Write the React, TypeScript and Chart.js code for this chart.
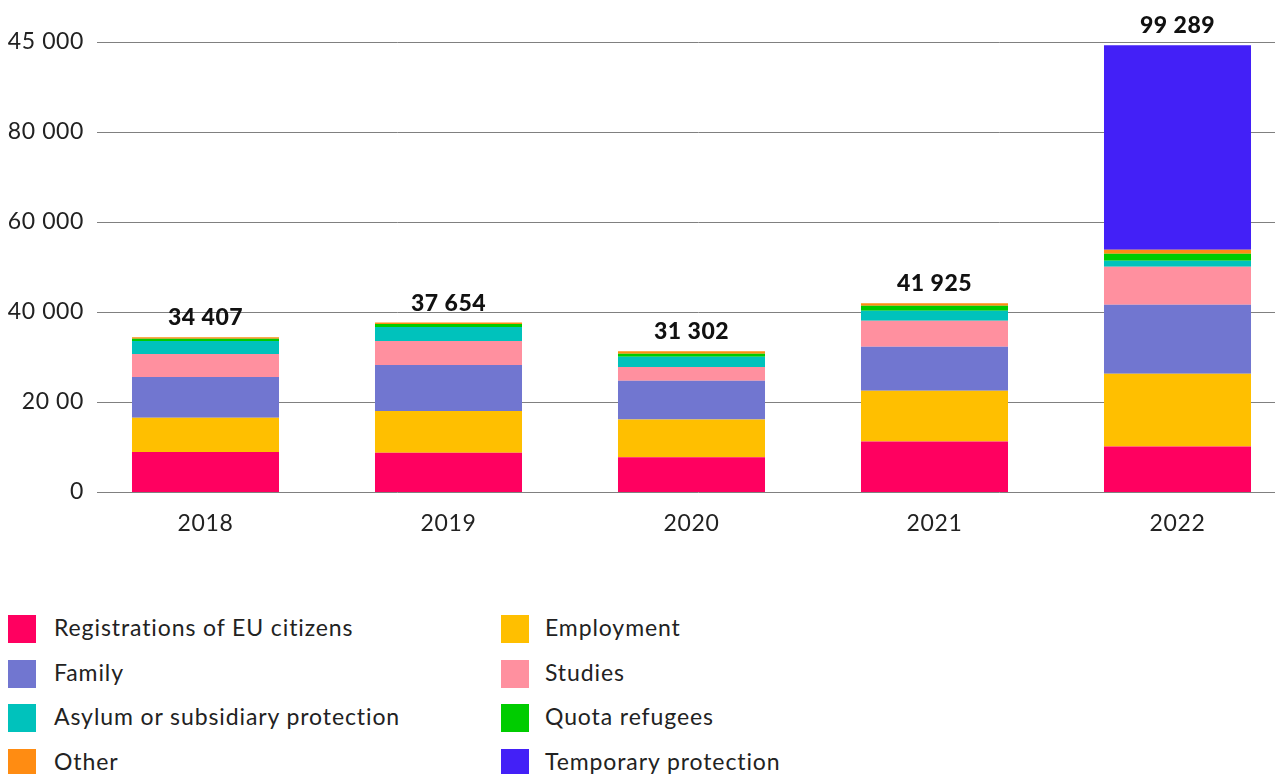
import React, { useEffect, useRef } from "react";
import { Chart, registerables } from "chart.js";

Chart.register(...registerables);

const years = ["2018", "2019", "2020", "2021", "2022"];
const euCitizens = [8900, 8700, 7700, 11200, 10100];
const employment = [7600, 9300, 8400, 11300, 16200];
const family = [9050, 10200, 8600, 9800, 15300];
const studies = [5100, 5350, 3100, 5750, 8450];
const asylum = [2900, 3100, 2250, 2250, 1350];
const quota = [500, 700, 650, 1100, 1550];
const other = [357, 304, 602, 525, 900];
const temporary = [0, 0, 0, 0, 45439];
const yTickLabels = ["0", "20 00", "40 000", "60 000", "80 000", "45 000"];

const seriesNames = [
  "Registrations of EU citizens",
  "Employment",
  "Family",
  "Studies",
  "Asylum or subsidiary protection",
  "Quota refugees",
  "Other",
  "Temporary protection",
];
const seriesValues = [euCitizens, employment, family, studies, asylum, quota, other, temporary];
const seriesColors = ["#FF0060", "#FFBF00", "#7176D0", "#FF909F", "#00C2BC", "#00CC00", "#FF8C12", "#4320F7"];

const FONT = "Lato, 'Noto Sans', sans-serif";

const fmt = (n: number) => String(n).replace(/\B(?=(\d{3})+(?!\d))/g, " ");

const spacingPlugin = {
  id: "spacing",
  beforeDraw(chart: any) {
    (chart.ctx as any).letterSpacing = "0.6px";
  },
};

const gridPlugin = {
  id: "customGrid",
  beforeDatasetsDraw(chart: any) {
    const { ctx } = chart;
    const y = chart.scales.y;
    ctx.save();
    ctx.strokeStyle = "#808080";
    ctx.lineWidth = 1;
    y.ticks.forEach((t: any) => {
      const py = Math.round(y.getPixelForValue(t.value)) + 0.5;
      ctx.beginPath();
      ctx.moveTo(97, py);
      ctx.lineTo(chart.width, py);
      ctx.stroke();
    });
    ctx.restore();
  },
};

const totalsPlugin = {
  id: "totals",
  afterDatasetsDraw(chart: any) {
    const { ctx } = chart;
    const x = chart.scales.x;
    const y = chart.scales.y;
    ctx.save();
    (ctx as any).letterSpacing = "0.5px";
    ctx.fillStyle = "#111";
    ctx.font = `900 23px ${FONT}`;
    ctx.textAlign = "center";
    ctx.textBaseline = "alphabetic";
    years.forEach((_, i) => {
      const total = seriesValues.reduce((s, arr) => s + arr[i], 0);
      const px = x.getPixelForValue(i);
      const py = y.getPixelForValue(total);
      ctx.fillText(fmt(total), px, py - 12);
    });
    ctx.restore();
  },
};

export default function App() {
  const ref = useRef<HTMLCanvasElement>(null);

  useEffect(() => {
    if (!ref.current) return;
    const chart = new Chart(ref.current, {
      type: "bar",
      data: {
        labels: years,
        datasets: seriesNames.map((name, k) => ({
          label: name,
          data: seriesValues[k],
          backgroundColor: seriesColors[k],
          borderWidth: 0,
          barPercentage: 0.605,
          categoryPercentage: 1,
        })),
      },
      options: {
        animation: false,
        responsive: false,
        layout: { padding: { top: 42, right: 1, left: 0, bottom: 0 } },
        plugins: {
          legend: { display: false },
          tooltip: { enabled: false },
        },
        scales: {
          x: {
            stacked: true,
            grid: { display: false, drawTicks: false },
            border: { display: false },
            ticks: {
              color: "#222",
              font: { family: FONT, size: 23 },
              padding: 18,
            },
            afterFit(scale: any) {
              scale.height = 68;
            },
          },
          y: {
            stacked: true,
            min: 0,
            max: 100000,
            grid: { display: false, drawTicks: false },
            border: { display: false },
            ticks: {
              stepSize: 20000,
              color: "#222",
              font: { family: FONT, size: 23 },
              padding: 0,
              callback: (_v: any, idx: number) => yTickLabels[idx],
            },
            afterFit(scale: any) {
              scale.width = 84;
            },
          },
        },
      },
      plugins: [spacingPlugin, gridPlugin, totalsPlugin],
    });
    return () => chart.destroy();
  }, []);

  const rows: number[][] = [];
  for (let i = 0; i < seriesNames.length; i += 2) rows.push([i, i + 1]);

  return (
    <div
      style={{
        position: "absolute",
        left: 0,
        top: 0,
        width: 1275,
        height: 774,
        overflow: "hidden",
        background: "#fff",
        fontFamily: FONT,
      }}
    >
      <canvas ref={ref} width={1300} height={560} style={{ display: "block" }} />
      {rows.map((pair, r) =>
        pair.map((k, c) => (
          <div
            key={k}
            style={{
              position: "absolute",
              left: c === 0 ? 8 : 501,
              top: 615 + r * 44.5,
              height: 28,
              display: "flex",
              alignItems: "center",
              whiteSpace: "nowrap",
            }}
          >
            <span
              style={{
                display: "inline-block",
                width: 28,
                height: 28,
                background: seriesColors[k],
              }}
            />
            <span
              style={{
                marginLeft: c === 0 ? 18 : 16,
                fontSize: 23,
                letterSpacing: "0.9px",
                color: "#222",
                position: "relative",
                top: -2,
              }}
            >
              {seriesNames[k]}
            </span>
          </div>
        ))
      )}
    </div>
  );
}
